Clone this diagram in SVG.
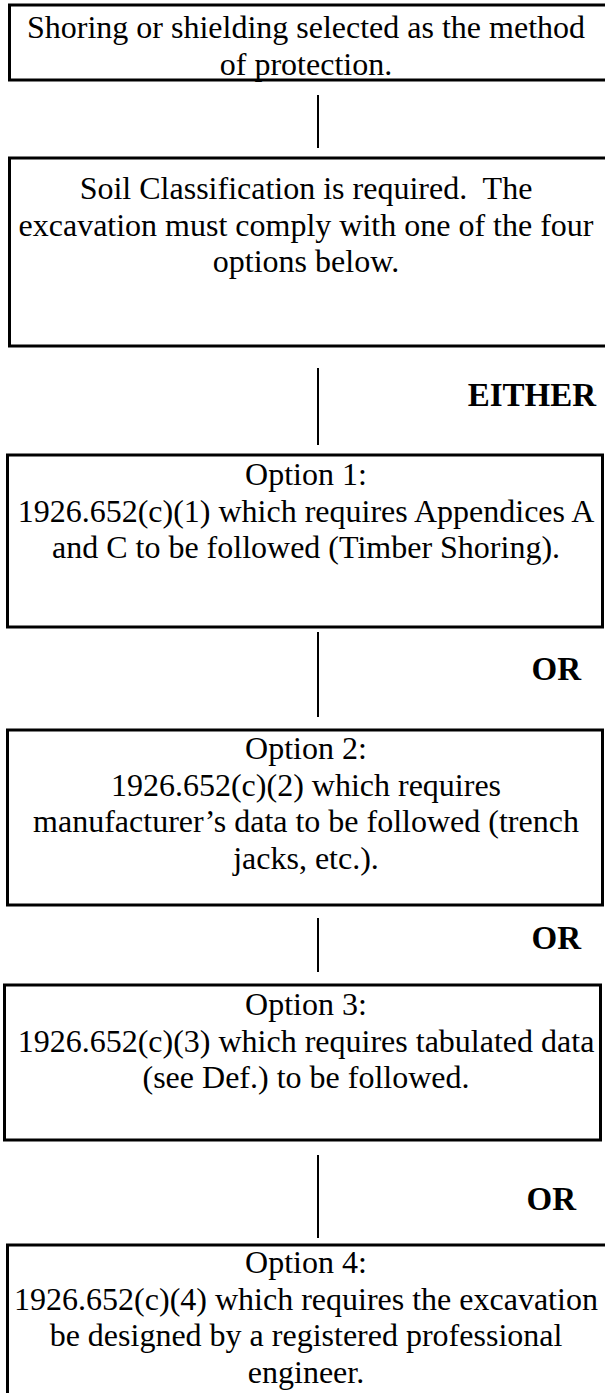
<svg xmlns="http://www.w3.org/2000/svg" width="605" height="1393" viewBox="0 0 605 1393">
  <style>
    .box { fill: #ffffff; stroke: #000000; stroke-width: 3; }
    .link { stroke: #000000; stroke-width: 2; fill: none; }
    .t { font-family: "Liberation Serif", "Times New Roman", serif; font-size: 32px; fill: #000000; text-anchor: middle; }
    .lbl { font-family: "Liberation Serif", "Times New Roman", serif; font-size: 33px; font-weight: bold; fill: #000000; text-anchor: end; }
  </style>
  <rect x="0" y="0" width="605" height="1393" fill="#ffffff"/>

  <!-- connectors between the steps -->
  <g id="connectors">
    <line class="link" x1="318" y1="95" x2="318" y2="148"/>
    <line class="link" x1="318" y1="368" x2="318" y2="445"/>
    <line class="link" x1="318" y1="632" x2="318" y2="717"/>
    <line class="link" x1="318" y1="918" x2="318" y2="972"/>
    <line class="link" x1="318" y1="1155" x2="318" y2="1238"/>
    <text class="lbl" x="596" y="406">EITHER</text>
    <text class="lbl" x="581" y="680">OR</text>
    <text class="lbl" x="581" y="949">OR</text>
    <text class="lbl" x="576" y="1210">OR</text>
  </g>

  <g id="start">
    <rect class="box" x="9.5" y="5" width="610" height="75"/>
    <text class="t" x="306" y="38">Shoring or shielding selected as the method</text>
    <text class="t" x="306" y="74.5">of protection.</text>
  </g>

  <g id="soil-classification">
    <rect class="box" x="9.5" y="158" width="610" height="188"/>
    <text class="t" x="306" y="199" xml:space="preserve">Soil Classification is required.  The</text>
    <text class="t" x="306" y="235.5">excavation must comply with one of the four</text>
    <text class="t" x="306" y="272">options below.</text>
  </g>

  <g id="option-1">
    <rect class="box" x="7.5" y="455" width="595" height="172"/>
    <text class="t" x="306" y="485">Option 1:</text>
    <text class="t" x="306" y="521.5">1926.652(c)(1) which requires Appendices A</text>
    <text class="t" x="306" y="558">and C to be followed (Timber Shoring).</text>
  </g>

  <g id="option-2">
    <rect class="box" x="7.5" y="730" width="595" height="175"/>
    <text class="t" x="306" y="759">Option 2:</text>
    <text class="t" x="306" y="795.5">1926.652(c)(2) which requires</text>
    <text class="t" x="306" y="832">manufacturer’s data to be followed (trench</text>
    <text class="t" x="306" y="868.5">jacks, etc.).</text>
  </g>

  <g id="option-3">
    <rect class="box" x="4.5" y="985" width="596" height="155"/>
    <text class="t" x="306" y="1015">Option 3:</text>
    <text class="t" x="306" y="1051.5">1926.652(c)(3) which requires tabulated data</text>
    <text class="t" x="306" y="1088">(see Def.) to be followed.</text>
  </g>

  <g id="option-4">
    <rect class="box" x="7.5" y="1245" width="610" height="160"/>
    <text class="t" x="306" y="1273">Option 4:</text>
    <text class="t" x="306" y="1309.5">1926.652(c)(4) which requires the excavation</text>
    <text class="t" x="306" y="1346">be designed by a registered professional</text>
    <text class="t" x="306" y="1382.5">engineer.</text>
  </g>
</svg>
